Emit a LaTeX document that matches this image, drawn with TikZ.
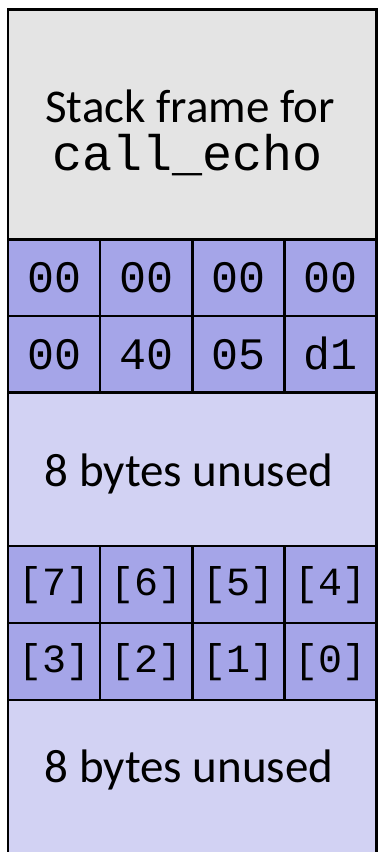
\documentclass[tikz,border=0pt]{standalone}
\usepackage{fontspec}
\setmainfont{Carlito}
\newfontfamily\monof{Liberation Mono}
\definecolor{framegray}{RGB}{228,228,228}
\definecolor{cellblue}{RGB}{165,165,232}
\definecolor{unusedblue}{RGB}{210,210,243}
\begin{document}
\begin{tikzpicture}[x=1pt,y=-1pt,
  blk/.style={draw=black, line width=2.6pt, anchor=north west, inner sep=0pt, outer sep=0pt},
  graybox/.style={blk, fill=framegray},
  hexcell/.style={blk, fill=cellblue, minimum width=92.125pt},
  freebox/.style={blk, fill=unusedblue, minimum width=368.5pt},
  sanstext/.style={anchor=base, inner sep=0pt, font=\fontsize{47}{47}\selectfont},
  monotext/.style={anchor=base, inner sep=0pt, font=\monof\fontsize{50}{50}\selectfont},
  hextext/.style={anchor=base, inner sep=0pt, font=\monof\fontsize{45}{45}\selectfont},
  idxtext/.style={anchor=base, inner sep=0pt, font=\monof\fontsize{40}{40}\selectfont}]
\useasboundingbox (0,0) rectangle (378,852);
% stack frame for call_echo
\node[graybox, minimum width=368.5pt, minimum height=230pt] (frame) at (8,9.5) {};
\node[sanstext] (frameA) at (190,122) {Stack frame for};
\node[monotext] (frameB) at (188,170) {call\_echo};
% return address rows
\foreach \t [count=\i from 0] in {00,00,00,00} {
  \node[hexcell, minimum height=76.5pt] (ra\i) at (8+\i*92.125,239.5) {};
  \node[hextext] (rat\i) at (8+\i*92.125+46.06,292.7) {\t};
}
\foreach \t [count=\i from 0] in {00,40,05,d1} {
  \node[hexcell, minimum height=76.7pt] (rb\i) at (8+\i*92.125,316) {};
  \node[hextext] (rbt\i) at (8+\i*92.125+46.06,369.3) {\t};
}
% unused 1
\node[freebox, minimum height=153.3pt] (unused1) at (8,392.7) {};
\node[sanstext] (unused1t) at (189,486) {8 bytes unused};
% buffer rows
\foreach \t [count=\i from 0] in {7,6,5,4} {
  \node[hexcell, minimum height=77pt] (bu\i) at (8+\i*92.125,546) {};
  \node[idxtext] (but\i) at (8+\i*92.125+46.06,595) {[\t]};
}
\foreach \t [count=\i from 0] in {3,2,1,0} {
  \node[hexcell, minimum height=77pt] (bl\i) at (8+\i*92.125,623) {};
  \node[idxtext] (blt\i) at (8+\i*92.125+46.06,672) {[\t]};
}
% unused 2
\node[freebox, minimum height=170pt] (unused2) at (8,700) {};
\node[sanstext] (unused2t) at (189,782.5) {8 bytes unused};
\end{tikzpicture}
\end{document}
